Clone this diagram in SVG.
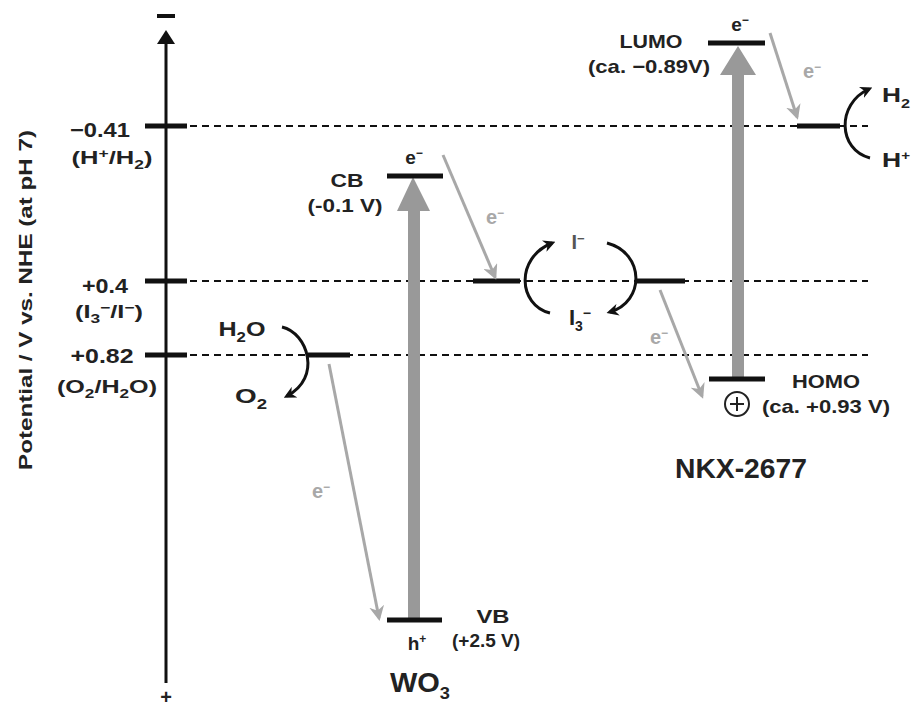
<svg xmlns="http://www.w3.org/2000/svg" width="915" height="710" viewBox="0 0 915 710">
<style>
text{font-family:"Liberation Sans",Arial,sans-serif;font-weight:bold;fill:#222}
.lbl{font-size:19px;text-anchor:middle}
.big{font-size:27px;text-anchor:middle}
.ge{font-size:20px;fill:#a8a8a8;text-anchor:middle}
.dash{stroke:#111;stroke-width:2;stroke-dasharray:7,5;fill:none}
.lvl{stroke:#111;stroke-width:5}
.tick{stroke:#111;stroke-width:5}
.gar{stroke:#a8a8a8;stroke-width:3;fill:none;marker-end:url(#gh)}
.bar{stroke:#111;stroke-width:3;fill:none;marker-end:url(#bh)}
.beam{fill:#999}
</style>
<defs>
<marker id="gh" viewBox="0 0 10 10" refX="8" refY="5" markerWidth="5" markerHeight="5" orient="auto" markerUnits="strokeWidth">
<path d="M0,0 L10,5 L0,10 L3,5 z" fill="#a8a8a8"/>
</marker>
<marker id="bh" viewBox="0 0 10 10" refX="7" refY="5" markerWidth="4" markerHeight="4" orient="auto" markerUnits="strokeWidth">
<path d="M0,0 L10,5 L0,10 L3,5 z" fill="#111"/>
</marker>
</defs>

<g id="axis">
<line x1="166" y1="683" x2="166" y2="38" stroke="#111" stroke-width="3"/>
<path d="M166,30 L175,44 L157,44 z" fill="#111"/>
<rect x="157" y="14" width="18" height="4" fill="#111"/>
<text x="166" y="704" style="font-size:20px;text-anchor:middle">+</text>
<text transform="translate(32,300) rotate(-90)" style="font-size:19px;text-anchor:middle" textLength="340" lengthAdjust="spacingAndGlyphs">Potential / V vs. NHE (at pH 7)</text>
</g>

<g id="level-H2">
<line class="tick" x1="145" y1="126" x2="187" y2="126"/>
<line class="dash" x1="190" y1="126" x2="868" y2="126"/>
<text class="lbl" x="100" y="137" style="font-size:21px" textLength="60" lengthAdjust="spacingAndGlyphs">−0.41</text>
<text class="lbl" x="112" y="164" textLength="81" lengthAdjust="spacingAndGlyphs">(H<tspan dy="-6" font-size="13">+</tspan><tspan dy="6">/H</tspan><tspan dy="5" font-size="13">2</tspan><tspan dy="-5">)</tspan></text>
</g>

<g id="level-I">
<line class="tick" x1="145" y1="281" x2="187" y2="281"/>
<line class="dash" x1="190" y1="281" x2="868" y2="281"/>
<text class="lbl" x="105" y="293" style="font-size:21px" textLength="46" lengthAdjust="spacingAndGlyphs">+0.4</text>
<text class="lbl" x="109" y="318" textLength="68" lengthAdjust="spacingAndGlyphs">(I<tspan dy="5" font-size="13">3</tspan><tspan dy="-11" font-size="13">−</tspan><tspan dy="6">/I</tspan><tspan dy="-6" font-size="13">−</tspan><tspan dy="6">)</tspan></text>
</g>

<g id="level-O2">
<line class="tick" x1="145" y1="355" x2="187" y2="355"/>
<line class="dash" x1="190" y1="355" x2="868" y2="355"/>
<text class="lbl" x="102" y="363" style="font-size:21px" textLength="63" lengthAdjust="spacingAndGlyphs">+0.82</text>
<text class="lbl" x="107" y="393" textLength="100" lengthAdjust="spacingAndGlyphs">(O<tspan dy="5" font-size="13">2</tspan><tspan dy="-5">/H</tspan><tspan dy="5" font-size="13">2</tspan><tspan dy="-5">O)</tspan></text>
</g>

<g id="WO3">
<path class="beam" d="M408,620 L408,211 L397,211 L413,177 L430,211 L420,211 L420,620 z"/>
<line class="lvl" x1="387" y1="176" x2="443" y2="176"/>
<line class="lvl" x1="387" y1="620" x2="442" y2="620"/>
<text class="lbl" x="414" y="164" style="font-size:19px">e<tspan dy="-7" font-size="12">−</tspan></text>
<text class="lbl" x="347" y="187" textLength="33" lengthAdjust="spacingAndGlyphs">CB</text>
<text class="lbl" x="345" y="212" textLength="75" lengthAdjust="spacingAndGlyphs">(-0.1 V)</text>
<text class="lbl" x="417" y="650">h<tspan dy="-7" font-size="12">+</tspan></text>
<text class="lbl" x="493" y="623" textLength="33" lengthAdjust="spacingAndGlyphs">VB</text>
<text class="lbl" x="486" y="647" textLength="68" lengthAdjust="spacingAndGlyphs">(+2.5 V)</text>
<text class="big" x="420" y="692" textLength="60" lengthAdjust="spacingAndGlyphs">WO<tspan dy="7" font-size="17">3</tspan></text>
</g>

<g id="water">
<line class="lvl" x1="308" y1="355" x2="350" y2="355"/>
<text class="lbl" x="242" y="336" style="font-size:21px" textLength="47" lengthAdjust="spacingAndGlyphs">H<tspan dy="6" font-size="14">2</tspan><tspan dy="-6">O</tspan></text>
<text class="lbl" x="251" y="403" style="font-size:21px" textLength="32" lengthAdjust="spacingAndGlyphs">O<tspan dy="6" font-size="14">2</tspan></text>
</g>

<g id="iodide">
<line class="lvl" x1="473" y1="281" x2="520" y2="281"/>
<line class="lvl" x1="637" y1="281" x2="685" y2="281"/>
<text class="lbl" x="578" y="249" style="font-size:20px;fill:#555">I<tspan dy="-6" font-size="13">−</tspan></text>
<text class="lbl" x="580" y="325" style="font-size:22px">I<tspan dy="6" font-size="14">3</tspan><tspan dy="-13" font-size="14">−</tspan></text>
</g>

<g id="hydrogen">
<line class="lvl" x1="797" y1="126" x2="840" y2="126"/>
<text class="lbl" x="896" y="102" style="font-size:21px" textLength="28" lengthAdjust="spacingAndGlyphs">H<tspan dy="6" font-size="13">2</tspan></text>
<text class="lbl" x="896" y="167" style="font-size:21px" textLength="28" lengthAdjust="spacingAndGlyphs">H<tspan dy="-7" font-size="12">+</tspan></text>
</g>

<g id="NKX-2677">
<path class="beam" d="M732,379 L732,75 L720,75 L738,46 L756,75 L744,75 L744,379 z"/>
<line class="lvl" x1="708" y1="43" x2="765" y2="43"/>
<line class="lvl" x1="709" y1="379" x2="765" y2="379"/>
<text class="lbl" x="740" y="31">e<tspan dy="-7" font-size="12">−</tspan></text>
<text class="lbl" x="651" y="48" textLength="63" lengthAdjust="spacingAndGlyphs">LUMO</text>
<text class="lbl" x="649" y="73" textLength="122" lengthAdjust="spacingAndGlyphs">(ca. −0.89V)</text>
<text class="lbl" x="826" y="388" textLength="68" lengthAdjust="spacingAndGlyphs">HOMO</text>
<circle cx="737" cy="404" r="12" fill="none" stroke="#222" stroke-width="2"/>
<line x1="730" y1="404" x2="744" y2="404" stroke="#222" stroke-width="2"/>
<line x1="737" y1="397" x2="737" y2="411" stroke="#222" stroke-width="2"/>
<text class="lbl" x="826" y="413" textLength="128" lengthAdjust="spacingAndGlyphs">(ca. +0.93 V)</text>
<text class="big" x="741" y="478" textLength="132" lengthAdjust="spacingAndGlyphs">NKX-2677</text>
</g>

<g id="connectors">
<path class="gar" d="M443,155 L495,277"/>
<path class="gar" d="M660,290 L702,396"/>
<path class="gar" d="M770,33 L797,117"/>
<path class="gar" d="M329,364 L379,618"/>
<path class="bar" d="M282,327 C308,333 322,378 287,396"/>
<path class="bar" d="M550,313 C518,305 515,258 552,243"/>
<path class="bar" d="M607,243 C645,253 645,302 610,312"/>
<path class="bar" d="M870,158 C838,150 836,104 869,89"/>
<text class="ge" x="495" y="224">e<tspan dy="-7" font-size="12">−</tspan></text>
<text class="ge" x="659" y="344">e<tspan dy="-7" font-size="12">−</tspan></text>
<text class="ge" x="812" y="78">e<tspan dy="-7" font-size="12">−</tspan></text>
<text class="ge" x="321" y="498">e<tspan dy="-7" font-size="12">−</tspan></text>
</g>
</svg>
